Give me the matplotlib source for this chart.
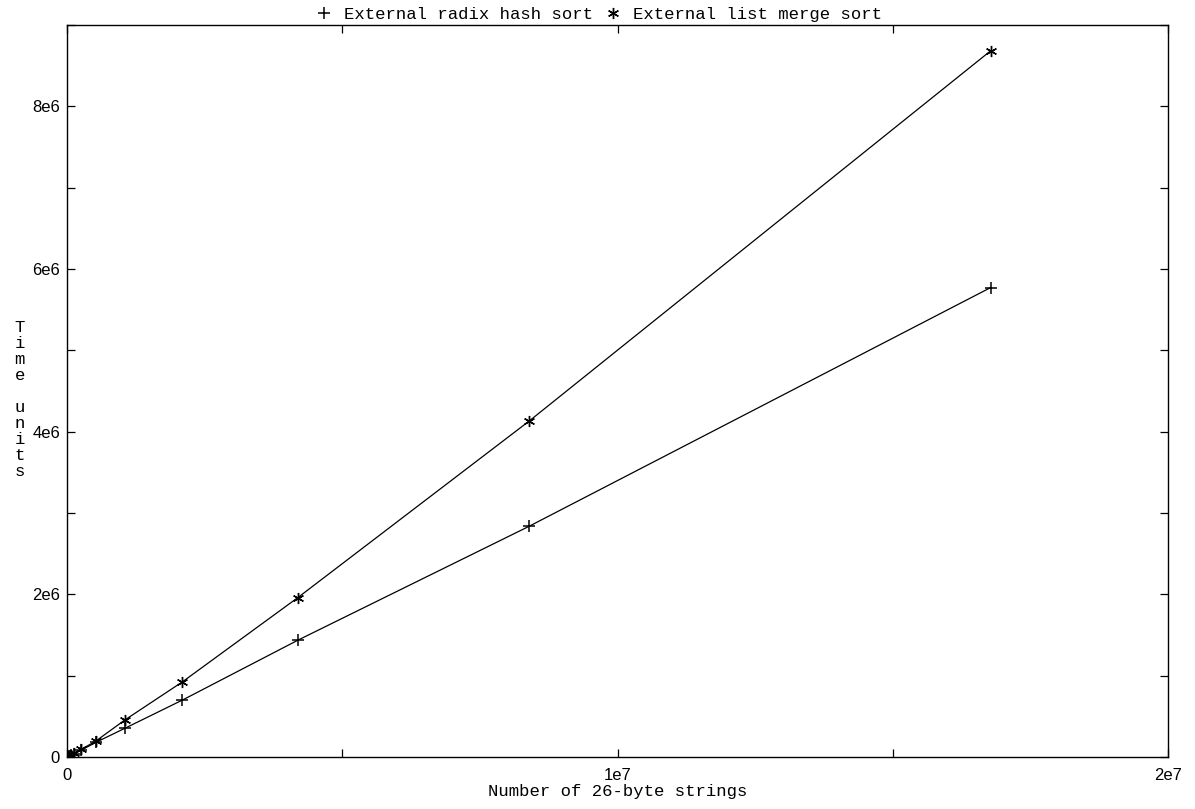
import matplotlib
matplotlib.use('Agg')
import matplotlib.pyplot as plt
from matplotlib.lines import Line2D
from matplotlib.ticker import MultipleLocator

n_strings = [2**14, 2**15, 2**16, 2**17, 2**18, 2**19, 2**20, 2**21, 2**22, 2**23, 2**24]
radix_hash = [5e3, 10e3, 21e3, 42e3, 85e3, 180e3, 352e3, 700e3, 1.436e6, 2.834e6, 5.77e6]
list_merge = [6e3, 12e3, 25e3, 50e3, 95e3, 196e3, 454e3, 924e3, 1.96e6, 4.126e6, 8.68e6]

x_tick_vals = [0, 1e7, 2e7]
x_tick_labels = ['0', '1e7', '2e7']
y_tick_vals = [0, 2e6, 4e6, 6e6, 8e6]
y_tick_labels = ['0', '2e6', '4e6', '6e6', '8e6']

MONO = 'Liberation Mono'
SANS = 'Liberation Sans'
STAR = (6, 2, 0)


def main():
    fig = plt.figure(figsize=(11.95, 8.09), dpi=100)
    ax = fig.add_axes([0.0561, 0.0643, 0.9213, 0.905])

    ax.plot(n_strings, radix_hash, color='black', lw=0.9, marker='+', ms=8, mew=1.1)
    ax.plot(n_strings, list_merge, color='black', lw=0.9, marker=STAR, ms=8, mew=1.0)

    ax.set_xlim(0, 2e7)
    ax.set_ylim(0, 9.0e6)
    ax.set_xticks(x_tick_vals)
    ax.set_xticklabels(x_tick_labels, fontfamily=SANS, fontsize=12)
    ax.xaxis.set_minor_locator(MultipleLocator(5e6))
    ax.set_yticks(y_tick_vals)
    ax.set_yticklabels(y_tick_labels, fontfamily=SANS, fontsize=12)
    ax.yaxis.set_minor_locator(MultipleLocator(1e6))
    ax.tick_params(which='both', direction='in', top=True, right=True,
                   length=6, width=0.9)
    ax.tick_params(axis='x', pad=8)
    ax.tick_params(axis='y', pad=5)
    for s in ax.spines.values():
        s.set_linewidth(1.0)

    ax.set_xlabel('Number of 26-byte strings', fontfamily=MONO, fontsize=12.4, labelpad=1)
    ax.set_ylabel('\n'.join('Time units'), fontfamily=MONO, fontsize=12.4,
                  rotation=0, va='center', labelpad=12, linespacing=1.08)
    ax.yaxis.set_label_coords(-0.043, 0.488)

    handles = [Line2D([], [], ls='none', color='black', marker='+', ms=8, mew=1.1),
               Line2D([], [], ls='none', color='black', marker=STAR, ms=8, mew=1.0)]
    labels = ['External radix hash sort', 'External list merge sort']
    ax.legend(handles, labels, loc='lower center', bbox_to_anchor=(0.483, 0.99), ncol=2,
              frameon=False, prop={'family': MONO, 'size': 12.4}, handlelength=1.0,
              handletextpad=0.65, columnspacing=0.65, borderpad=0.1)

    fig.savefig('out.png', dpi=100)


if __name__ == '__main__':
    main()
